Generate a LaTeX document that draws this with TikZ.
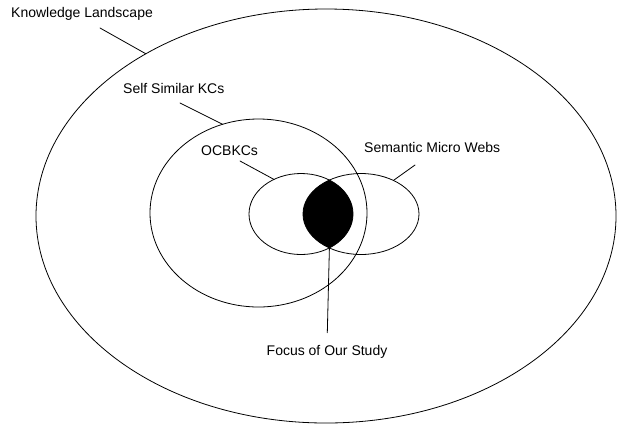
\documentclass[tikz,border=0pt]{standalone}
\usepackage{fontspec}
\setmainfont{Liberation Sans}
\usetikzlibrary{shapes.geometric,positioning}
\tikzset{
    every picture/.style={line cap=round,line join=round},
    region/.style={draw,ellipse,line width=0.8pt,inner sep=0pt,outer sep=0pt},
    tag/.style={font=\fontsize{14}{16}\selectfont,inner sep=0pt},
    leader/.style={draw,line width=0.8pt}
}
\begin{document}
\begin{tikzpicture}[x=1pt,y=-1pt]
  \useasboundingbox (0,0) rectangle (617,424);
  \coordinate (occ) at (301,214);
  \coordinate (smc) at (361,214);
  \coordinate (lensbot) at (329.4,248);
  % overlap of the two small sets
  \begin{scope}
    \clip (occ) ellipse [x radius=52pt,y radius=40.5pt];
    \fill (smc) ellipse [x radius=58pt,y radius=40.5pt];
  \end{scope}
  \node[region,minimum width=580pt,minimum height=414pt] (kl) at (326,216) {};
  \node[region,minimum width=217pt,minimum height=188pt] (ss) at (258.5,213) {};
  \node[region,minimum width=104pt,minimum height=81pt] (ocb) at (occ) {};
  \node[region,minimum width=116pt,minimum height=81pt] (smw) at (smc) {};
  \node[tag,anchor=base west] (kltag) at (11,17.5) {Knowledge Landscape};
  \node[tag,anchor=base west] (sstag) at (123,93.5) {Self Similar KCs};
  \node[tag,anchor=base west] (ocbtag) at (201,155) {OCBKCs};
  \node[tag,anchor=base west] (smwtag) at (364,152) {Semantic Micro Webs};
  \node[tag,anchor=base] (focus) at (327,355) {Focus of Our Study};
  \coordinate (klfoot) at (100,28);
  \coordinate (ssfoot) at (180,103);
  \coordinate (ocbfoot) at (240,161);
  \coordinate (smwfoot) at (415,165);
  \draw[leader] (klfoot) -- (kl.138.5);
  \draw[leader] (ssfoot) -- (ss.112.8);
  \draw[leader] (ocbfoot) -- (ocb.128);
  \draw[leader] (smwfoot) -- (smw.46.3);
  \draw[leader,shorten >=12pt] (lensbot) -- (focus.north);
\end{tikzpicture}
\end{document}
